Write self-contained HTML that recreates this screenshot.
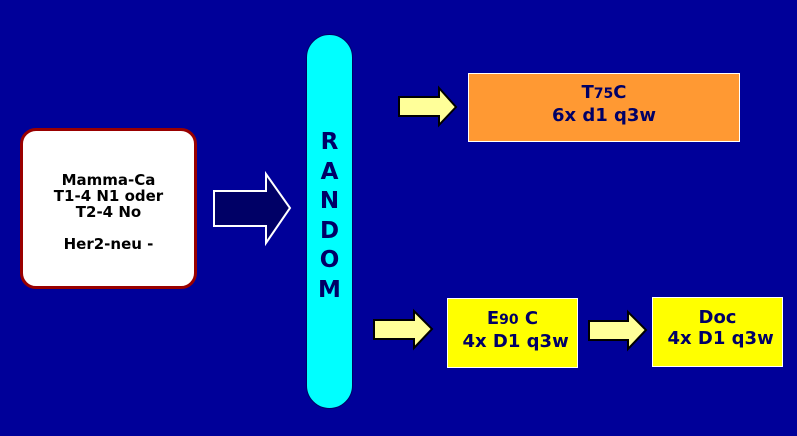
<!DOCTYPE html>
<html><head><style>
body{margin:0;width:797px;height:436px;background:#000099;position:relative;overflow:hidden;font-family:"DejaVu Sans","Liberation Sans",sans-serif;font-weight:bold}
.b{position:absolute;box-sizing:border-box;display:block;text-align:center;color:#000066;font-size:18px;line-height:21px}
</style></head><body>
<div class="b" style="left:20px;top:128px;width:177px;height:161px;background:#fff;border:3px solid #990000;border-radius:16px;color:#000;font-size:15px;line-height:16px;padding-top:41px">Mamma-Ca<br>T1-4 N1 oder<br>T2-4 No<br><br>Her2-neu -</div>
<div class="b" style="left:306px;top:34px;width:47px;height:375px;background:#00ffff;border:1px solid #000066;border-radius:24px;font-size:23px;line-height:29.5px;padding-top:93px">R<br>A<br>N<br>D<br>O<br>M</div>
<div class="b" style="left:468px;top:73px;width:272px;height:69px;background:#ff9933;border:1px solid #fff;padding-top:8px">T<span style="font-size:14px">75</span>C<br>6x d1 q3w</div>
<div class="b" style="left:447px;top:298px;width:131px;height:70px;background:#ffff00;border:1px solid #fff;padding-top:9px">E<span style="font-size:14px">90</span> C<br>&nbsp;4x D1 q3w</div>
<div class="b" style="left:652px;top:297px;width:131px;height:70px;background:#ffff00;border:1px solid #fff;padding-top:9px">Doc<br>&nbsp;4x D1 q3w</div>
<svg width="797" height="436" style="position:absolute;left:0;top:0">
<polygon points="214,191 266,191 266,174 290,208 266,243 266,226 214,226" fill="#000066" stroke="#fff" stroke-width="2"/>
<g fill="#ffff99" stroke="#000" stroke-width="2">
<polygon points="399,97 439,97 439,88 456,107 439,125 439,116 399,116"/>
<polygon points="374,320 414,320 414,311 432,329 414,348 414,339 374,339"/>
<polygon points="589,321 628,321 628,312 646,330 628,349 628,340 589,340"/>
</g>
</svg>
</body></html>
